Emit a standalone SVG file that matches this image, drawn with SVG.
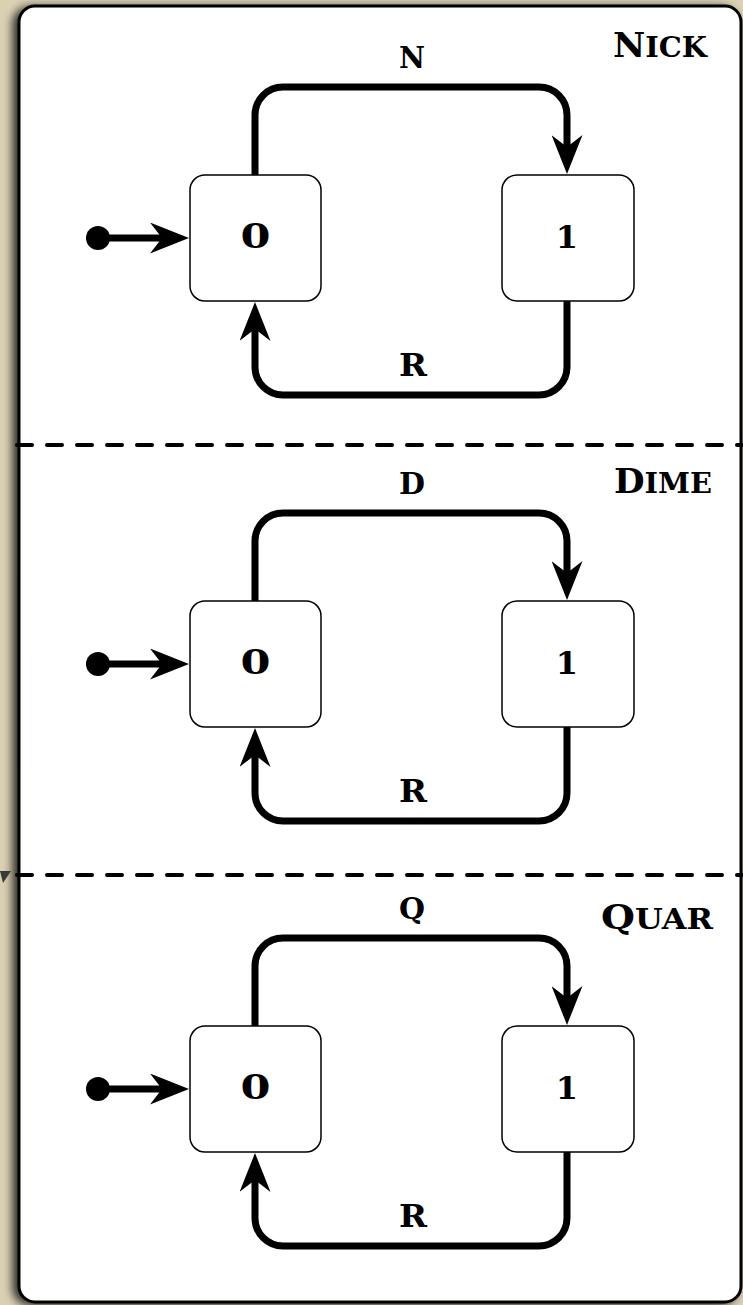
<svg xmlns="http://www.w3.org/2000/svg" width="743" height="1305" viewBox="0 0 743 1305">
<defs>
<style>
.node rect{fill:#fff;stroke:#000;stroke-width:1.5}
.txt{font-family:"DejaVu Serif","Liberation Serif",serif;font-weight:bold;fill:#000}
.ttl{font-size:33px}
.tsc{font-variant:small-caps;font-size:39px}
.sc{font-variant:small-caps;font-size:43px}
.big{font-size:32px}
.zero{font-size:34px}
.edge{fill:none;stroke:#000;stroke-width:7;marker-end:url(#ah)}
.dash{stroke:#000;stroke-width:4;stroke-dasharray:15 15;stroke-linecap:round;fill:none}
</style>
<marker id="ah" markerUnits="userSpaceOnUse" markerWidth="39" markerHeight="31" refX="12" refY="15.5" orient="auto">
<path d="M39,15.5 L0,0 L12,15.5 L0,31 Z" fill="#000"/>
</marker>
<filter id="sh" x="-5%" y="-5%" width="110%" height="110%">
<feGaussianBlur in="SourceAlpha" stdDeviation="5"/>
<feOffset dx="-5" dy="2"/>
<feComponentTransfer><feFuncA type="linear" slope="0.8"/></feComponentTransfer>
<feMerge><feMergeNode/><feMergeNode in="SourceGraphic"/></feMerge>
</filter>
</defs>
<rect x="0" y="0" width="743" height="1305" fill="#dad1b5"/>
<rect x="19" y="6" width="722" height="1296" rx="16" fill="#fff" stroke="#000" stroke-width="3" filter="url(#sh)"/>
<polygon points="0,871 11,871 3,883" fill="#3a3a3a"/>

<g id="separators">
<line class="dash" x1="17" y1="445" x2="745" y2="445"/>
<line class="dash" x1="17" y1="875" x2="745" y2="875"/>
</g>

<g id="titles" class="txt ttl">
<text x="613" y="57" textLength="94" lengthAdjust="spacingAndGlyphs">N<tspan class="tsc">ick</tspan></text>
<text x="614" y="493" textLength="98" lengthAdjust="spacingAndGlyphs">D<tspan class="tsc">ime</tspan></text>
<text x="601" y="929" textLength="112" lengthAdjust="spacingAndGlyphs">Q<tspan class="tsc">uar</tspan></text>
</g>

<!-- Section 1: Nick -->
<g id="nick">
<g id="nick-start"><circle cx="98" cy="238" r="12" fill="#000"/></g>
<g id="nick-s0" class="node"><rect x="190" y="175" width="131" height="126" rx="15"/><text class="txt zero" x="255.5" y="248" text-anchor="middle" textLength="30" lengthAdjust="spacingAndGlyphs">0</text></g>
<g id="nick-s1" class="node"><rect x="502" y="175" width="132" height="126" rx="15"/><text class="txt big" x="567" y="248" text-anchor="middle">1</text></g>
<g id="nick-connectors">
<path class="edge" d="M98,238 H162"/>
<path class="edge" d="M255,175 V115 A28,28 0 0 1 283,87 H539 A28,28 0 0 1 567,115 V147"/>
<path class="edge" d="M567,301 V367 A28,28 0 0 1 539,395 H283 A28,28 0 0 1 255,367 V329"/>
<text class="txt sc" x="412" y="68" text-anchor="middle" textLength="26" lengthAdjust="spacingAndGlyphs">n</text>
<text class="txt big" x="413" y="376" text-anchor="middle" textLength="28" lengthAdjust="spacingAndGlyphs">R</text>
</g>
</g>

<!-- Section 2: Dime -->
<g id="dime" transform="translate(0,426)">
<g id="dime-start"><circle cx="98" cy="238" r="12" fill="#000"/></g>
<g id="dime-s0" class="node"><rect x="190" y="175" width="131" height="126" rx="15"/><text class="txt zero" x="255.5" y="248" text-anchor="middle" textLength="30" lengthAdjust="spacingAndGlyphs">0</text></g>
<g id="dime-s1" class="node"><rect x="502" y="175" width="132" height="126" rx="15"/><text class="txt big" x="567" y="248" text-anchor="middle">1</text></g>
<g id="dime-connectors">
<path class="edge" d="M98,238 H162"/>
<path class="edge" d="M255,175 V115 A28,28 0 0 1 283,87 H539 A28,28 0 0 1 567,115 V147"/>
<path class="edge" d="M567,301 V367 A28,28 0 0 1 539,395 H283 A28,28 0 0 1 255,367 V329"/>
<text class="txt sc" x="412" y="68" text-anchor="middle" textLength="26" lengthAdjust="spacingAndGlyphs">d</text>
<text class="txt big" x="413" y="376" text-anchor="middle" textLength="28" lengthAdjust="spacingAndGlyphs">R</text>
</g>
</g>

<!-- Section 3: Quar -->
<g id="quar" transform="translate(0,851)">
<g id="quar-start"><circle cx="98" cy="238" r="12" fill="#000"/></g>
<g id="quar-s0" class="node"><rect x="190" y="175" width="131" height="126" rx="15"/><text class="txt zero" x="255.5" y="248" text-anchor="middle" textLength="30" lengthAdjust="spacingAndGlyphs">0</text></g>
<g id="quar-s1" class="node"><rect x="502" y="175" width="132" height="126" rx="15"/><text class="txt big" x="567" y="248" text-anchor="middle">1</text></g>
<g id="quar-connectors">
<path class="edge" d="M98,238 H162"/>
<path class="edge" d="M255,175 V115 A28,28 0 0 1 283,87 H539 A28,28 0 0 1 567,115 V147"/>
<path class="edge" d="M567,301 V367 A28,28 0 0 1 539,395 H283 A28,28 0 0 1 255,367 V329"/>
<text class="txt sc" x="412" y="68" text-anchor="middle" textLength="26" lengthAdjust="spacingAndGlyphs">q</text>
<text class="txt big" x="413" y="376" text-anchor="middle" textLength="28" lengthAdjust="spacingAndGlyphs">R</text>
</g>
</g>
</svg>
